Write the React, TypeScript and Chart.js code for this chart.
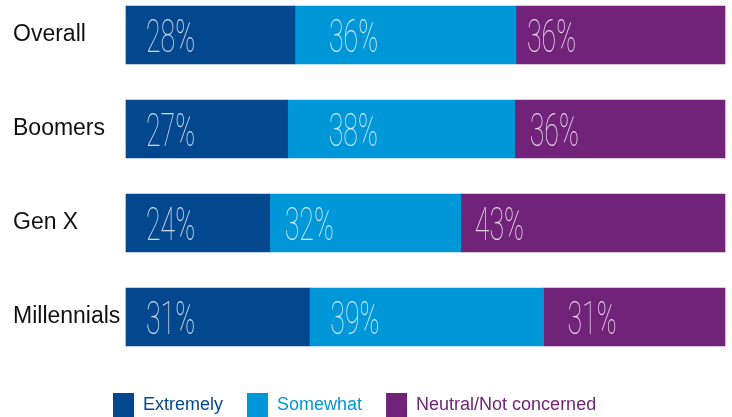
import React, { useEffect, useRef } from "react";
import { Chart, registerables } from "chart.js";

Chart.register(...registerables);

// ---- data ----
const categories = ["Overall", "Boomers", "Gen X", "Millennials"];
const seriesNames = ["Extremely", "Somewhat", "Neutral/Not concerned"];
// bar lengths as drawn (share of the full bar, %)
const extremely = [28.2, 27.0, 24.0, 30.6];
const somewhat = [36.9, 37.9, 31.9, 39.1];
const neutral = [34.9, 35.1, 44.1, 30.3];
// printed labels
const extremelyLabels = ["28%", "27%", "24%", "31%"];
const somewhatLabels = ["36%", "38%", "32%", "39%"];
const neutralLabels = ["36%", "36%", "43%", "31%"];

const colors = ["#03488F", "#0097D9", "#712279"];

const barLabelPlugin = {
  id: "barLabels",
  afterDatasetsDraw(chart: any, _args: any, opts: any) {
    const ctx = chart.ctx;
    chart.data.datasets.forEach((_ds: any, di: number) => {
      const meta = chart.getDatasetMeta(di);
      meta.data.forEach((bar: any, i: number) => {
        const text = opts.labels[di][i];
        const p = bar.getProps(["x", "y", "base"], true);
        const left = Math.min(p.x, p.base);
        ctx.save();
        ctx.translate(left + opts.insets[di][i], p.y + opts.baselineShift);
        ctx.scale(opts.squeeze, 1);
        ctx.font = opts.font;
        ctx.fillStyle = opts.color;
        ctx.textAlign = "left";
        ctx.textBaseline = "alphabetic";
        ctx.fillText(text, 0, 0);
        ctx.restore();
      });
    });
  },
};

const legendShiftPlugin = {
  id: "legendShift",
  afterLayout(chart: any, _args: any, opts: any) {
    const l = chart.legend;
    if (l) {
      l.left += opts.dx;
      l.right += opts.dx;
    }
  },
};

export default function App() {
  const ref = useRef<HTMLCanvasElement | null>(null);

  useEffect(() => {
    if (!ref.current) return;
    const values = [extremely, somewhat, neutral];
    const chart = new Chart(ref.current, {
      type: "bar",
      data: {
        labels: categories,
        datasets: seriesNames.map((name, i) => ({
          label: name,
          data: values[i],
          backgroundColor: colors[i],
          borderWidth: 0,
          barThickness: 58,
          clip: false as any,
        })),
      },
      options: {
        indexAxis: "y",
        responsive: false,
        animation: false,
        devicePixelRatio: 1,
        layout: { padding: { top: 35, left: 13, right: 7, bottom: 0 } },
        scales: {
          x: {
            type: "linear",
            stacked: true,
            min: 0,
            max: 100,
            grid: { display: false },
            border: { display: false },
            ticks: { display: false },
            afterFit: (s: any) => {
              s.height = 52;
            },
          },
          y: {
            type: "category",
            stacked: true,
            offset: false,
            grid: { display: false },
            border: { display: false },
            ticks: {
              crossAlign: "far",
              color: "#111111",
              font: { family: "'Liberation Sans', Arial, sans-serif", size: 23 },
            },
            afterFit: (s: any) => {
              s.width = 113;
            },
          },
        },
        plugins: {
          tooltip: { enabled: false },
          legend: {
            position: "bottom",
            align: "start",
            maxHeight: 48,
            labels: {
              boxWidth: 21,
              boxHeight: 24,
              padding: 24,
              font: { family: "'Liberation Sans', Arial, sans-serif", size: 18 },
              generateLabels: (c: any) =>
                c.data.datasets.map((ds: any, i: number) => ({
                  text: ds.label,
                  fillStyle: ds.backgroundColor,
                  strokeStyle: ds.backgroundColor,
                  lineWidth: 0,
                  fontColor: ds.backgroundColor,
                  hidden: false,
                  datasetIndex: i,
                })),
            },
          },
          barLabels: {
            labels: [extremelyLabels, somewhatLabels, neutralLabels],
            insets: [
              [20, 20, 20, 20],
              [34, 41, 15, 21],
              [11, 15, 14, 24],
            ],
            baselineShift: 16.5,
            squeeze: 0.58,
            font: "100 46px Roboto, 'DejaVu Sans', sans-serif",
            color: "rgba(255,255,255,0.8)",
          },
          legendShift: { dx: 76 },
        } as any,
      },
      plugins: [barLabelPlugin, legendShiftPlugin],
    });
    return () => chart.destroy();
  }, []);

  return (
    <div style={{ position: "absolute", left: 0, top: 0, width: 732, height: 417 }}>
      <canvas ref={ref} width={732} height={417} style={{ display: "block" }} />
    </div>
  );
}
